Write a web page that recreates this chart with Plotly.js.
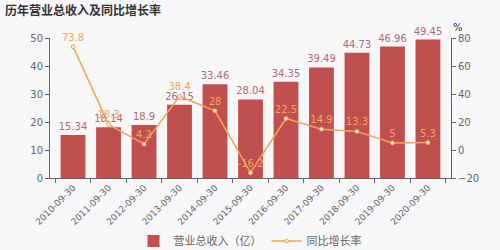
<!DOCTYPE html>
<html><head><meta charset="utf-8">
<script src="https://cdn.plot.ly/plotly-3.0.1.min.js"></script>
<style>html,body{margin:0;padding:0;background:#f7f7f9;}</style>
</head><body><div id="chart" style="width:500px;height:250px;"></div>
<script>
const categories = ["2010-09-30","2011-09-30","2012-09-30","2013-09-30","2014-09-30","2015-09-30","2016-09-30","2017-09-30","2018-09-30","2019-09-30","2020-09-30"];
const revenue = [15.34, 18.14, 18.9, 26.15, 33.46, 28.04, 34.35, 39.49, 44.73, 46.96, 49.45];
const growth = [73.8, 18.3, 4.2, 38.4, 28, -16.2, 22.5, 14.9, 13.3, 5, 5.3];
const font = "Noto Sans CJK SC, DejaVu Sans, sans-serif";
const traces = [
  {type:'bar', name:'营业总收入（亿）', x:categories, y:revenue,
   marker:{color:'#c0504f'}, text:revenue.map(String), textposition:'outside', constraintext:'none',
   textfont:{color:'#b46a72', size:10, family:'DejaVu Sans'}, cliponaxis:false, hoverinfo:'none'},
  {type:'scatter', mode:'lines+markers+text', name:'同比增长率', x:categories, y:growth, yaxis:'y2',
   line:{color:'#f2a55a', width:1.5}, marker:{size:4, color:'#fbe9d6', line:{color:'#f2a55a', width:1}},
   text:growth.map(String), textposition:'top center', textfont:{color:'#f2a55a', size:10, family:'DejaVu Sans'},
   cliponaxis:false, hoverinfo:'none'}
];
const layout = {
  width:500, height:250,
  paper_bgcolor:'#f7f7f9', plot_bgcolor:'#f7f7f9',
  margin:{l:50, r:49, t:38, b:72},
  font:{family:font, color:'#666', size:10},
  title:{text:'<b>历年营业总收入及同比增长率</b>', x:0.01, xanchor:'left', y:0.955, yanchor:'middle', font:{size:12, color:'#333', family:font}},
  bargap:0.3,
  showlegend:true,
  legend:{orientation:'h', x:0.5, xanchor:'center', xref:'container', y:0.036, yref:'container', yanchor:'middle', font:{size:11, color:'#666', family:font}, bgcolor:'rgba(0,0,0,0)'},
  xaxis:{type:'category', automargin:false, tickangle:-45, showline:true, linecolor:'#666', ticks:'outside', ticklen:4, tickcolor:'#666', tickson:'boundaries', showgrid:false, tickfont:{size:9, color:'#666', family:'DejaVu Sans'}},
  yaxis:{range:[0,50], automargin:false, dtick:10, showline:true, linecolor:'#666', ticks:'outside', ticklen:4, tickcolor:'#666', showgrid:false, zeroline:false, tickfont:{size:10, color:'#666', family:'DejaVu Sans'}},
  yaxis2:{range:[-20,80], automargin:false, dtick:20, overlaying:'y', side:'right', showline:true, linecolor:'#666', ticks:'outside', ticklen:4, tickcolor:'#666', showgrid:false, zeroline:false, tickfont:{size:10, color:'#666', family:'DejaVu Sans'}},
  annotations:[{text:'%', xref:'paper', yref:'paper', x:1.0, y:1.0, xanchor:'left', yanchor:'bottom', yshift:3, showarrow:false, font:{size:10, color:'#333', family:'DejaVu Sans'}}]
};
Plotly.newPlot('chart', traces, layout, {displayModeBar:false, staticPlot:true});
</script></body></html>
